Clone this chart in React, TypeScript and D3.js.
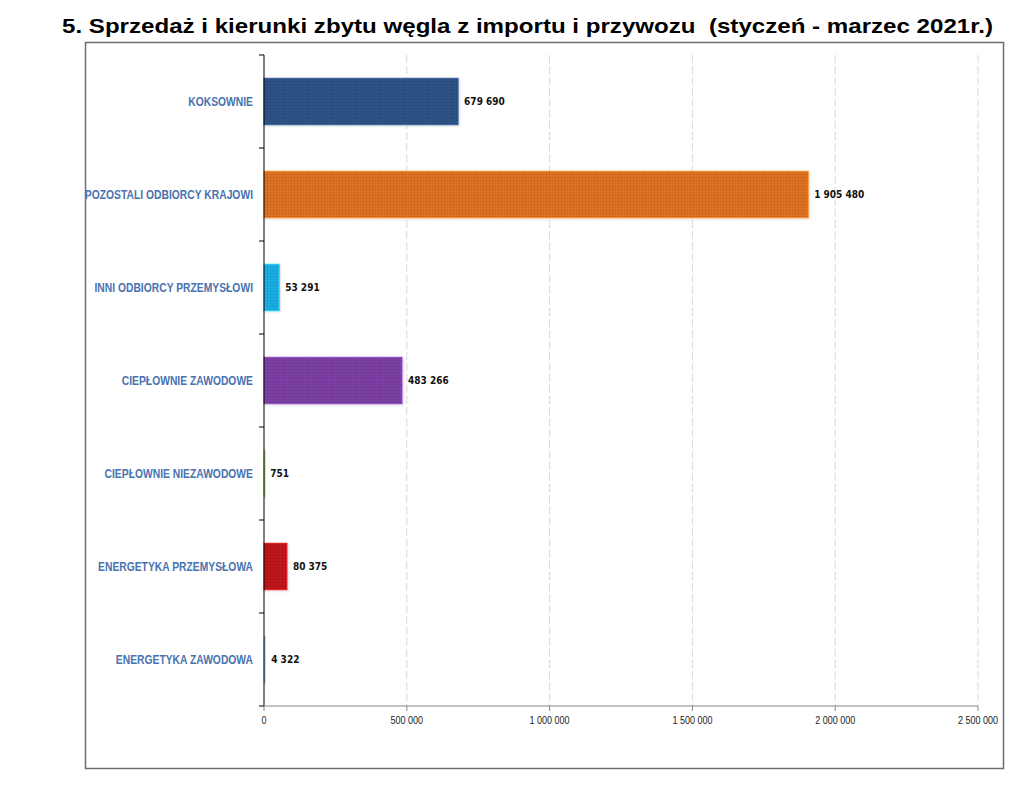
import React from "react";
import * as d3 from "d3";

const categories = [
  "KOKSOWNIE",
  "POZOSTALI ODBIORCY KRAJOWI",
  "INNI ODBIORCY PRZEMYSŁOWI",
  "CIEPŁOWNIE ZAWODOWE",
  "CIEPŁOWNIE NIEZAWODOWE",
  "ENERGETYKA PRZEMYSŁOWA",
  "ENERGETYKA ZAWODOWA",
];
const values = [679690, 1905480, 53291, 483266, 751, 80375, 4322];
const barColors = ["#2e5387", "#df7320", "#1faee6", "#7d40a6", "#8cbf4a", "#c0171c", "#8eb3e2"];
const xTicks = [0, 500000, 1000000, 1500000, 2000000, 2500000];
const title = "5. Sprzedaż i kierunki zbytu węgla z importu i przywozu  (styczeń - marzec 2021r.)";

const fmt = (v: number) => d3.format(",")(v).replace(/,/g, " ");

export default function App() {
  const W = 1024, H = 785;
  const left = 264, right = 978, top = 55, bottom = 706;
  const x = d3.scaleLinear().domain([0, 2500000]).range([left, right]);
  const y = d3.scaleBand<string>().domain(categories).range([top, bottom]).paddingInner(0.5).paddingOuter(0.25);
  const yOuter = d3.scaleBand<string>().domain(categories).range([top, bottom]);
  const bounds = categories.map((c) => yOuter(c) as number).concat([bottom]);
  const sans = "'Liberation Sans', Arial, sans-serif";

  return (
    <svg width={W} height={H} style={{ position: "absolute", left: 0, top: 0, background: "#fff" }}>
      <defs>
        <filter id="sh" x="-5%" y="-10%" width="115%" height="130%">
          <feDropShadow dx="1" dy="1" stdDeviation="1" floodColor="#000" floodOpacity="0.15" />
        </filter>
        <pattern id="tex" width="3" height="3" patternUnits="userSpaceOnUse">
          <rect x="0" y="0" width="3" height="1" fill="#000" opacity="0.06" />
          <rect x="0" y="0" width="1" height="3" fill="#000" opacity="0.06" />
        </pattern>
      </defs>
      <text
        x={527.5}
        y={33}
        textAnchor="middle"
        style={{ whiteSpace: "pre" }}
        fontFamily={sans}
        fontWeight="bold"
        fontSize={21}
        textLength={931}
        lengthAdjust="spacingAndGlyphs"
        fill="#000"
      >
        {title}
      </text>
      <rect x={85.5} y={42.5} width={918} height={726} fill="none" stroke="#6e6e6e" strokeWidth={1.5} />
      {xTicks.slice(1).map((t) => (
        <line key={"g" + t} x1={x(t)} x2={x(t)} y1={top} y2={bottom} stroke="#d9d9d9" strokeDasharray="8,3" strokeWidth={1} />
      ))}
      {categories.map((c, i) => {
        const by = y(c) as number;
        const bw = Math.max(1, x(values[i]) - x(0));
        const cy = (yOuter(c) as number) + yOuter.bandwidth() / 2;
        return (
          <g key={c}>
            <rect
              x={x(0)}
              y={by}
              width={bw}
              height={y.bandwidth()}
              fill={barColors[i]}
              stroke={d3.color(barColors[i])!.brighter(0.6).toString()}
              strokeWidth={1}
              filter="url(#sh)"
            />
            <rect x={x(0)} y={by} width={bw} height={y.bandwidth()} fill="url(#tex)" />
            <text
              x={x(values[i]) + 6}
              y={by + y.bandwidth() / 2}
              dy="0.35em"
              fontFamily="'DejaVu Sans Condensed', 'Liberation Sans', sans-serif"
              fontWeight="bold"
              fontSize={10}
              fill="#111"
            >
              {fmt(values[i])}
            </text>
            <g transform={`translate(253,${cy}) scale(0.86,1)`}>
              <text
                x={0}
                y={0}
                dy="0.35em"
                textAnchor="end"
                fontFamily={sans}
                fontWeight="bold"
                fontSize={12}
                fill="#4a72b0"
              >
                {c}
              </text>
            </g>
          </g>
        );
      })}
      {/* y axis */}
      <line x1={left} x2={left} y1={top} y2={bottom} stroke="#000" strokeWidth={1} />
      {bounds.map((b, i) => (
        <line key={"t" + i} x1={left - 5} x2={left} y1={b} y2={b} stroke="#000" strokeWidth={1} />
      ))}
      {/* x axis */}
      <line x1={left} x2={right} y1={bottom} y2={bottom} stroke="#888" strokeWidth={1} />
      {xTicks.map((t) => (
        <g key={"x" + t}>
          <line x1={x(t)} x2={x(t)} y1={bottom} y2={bottom + 5} stroke="#888" />
          <g transform={`translate(${x(t)},${bottom + 18}) scale(0.9,1)`}>
            <text x={0} y={0} textAnchor="middle" fontFamily={sans} fontSize={10} fill="#222">
              {fmt(t)}
            </text>
          </g>
        </g>
      ))}
    </svg>
  );
}
